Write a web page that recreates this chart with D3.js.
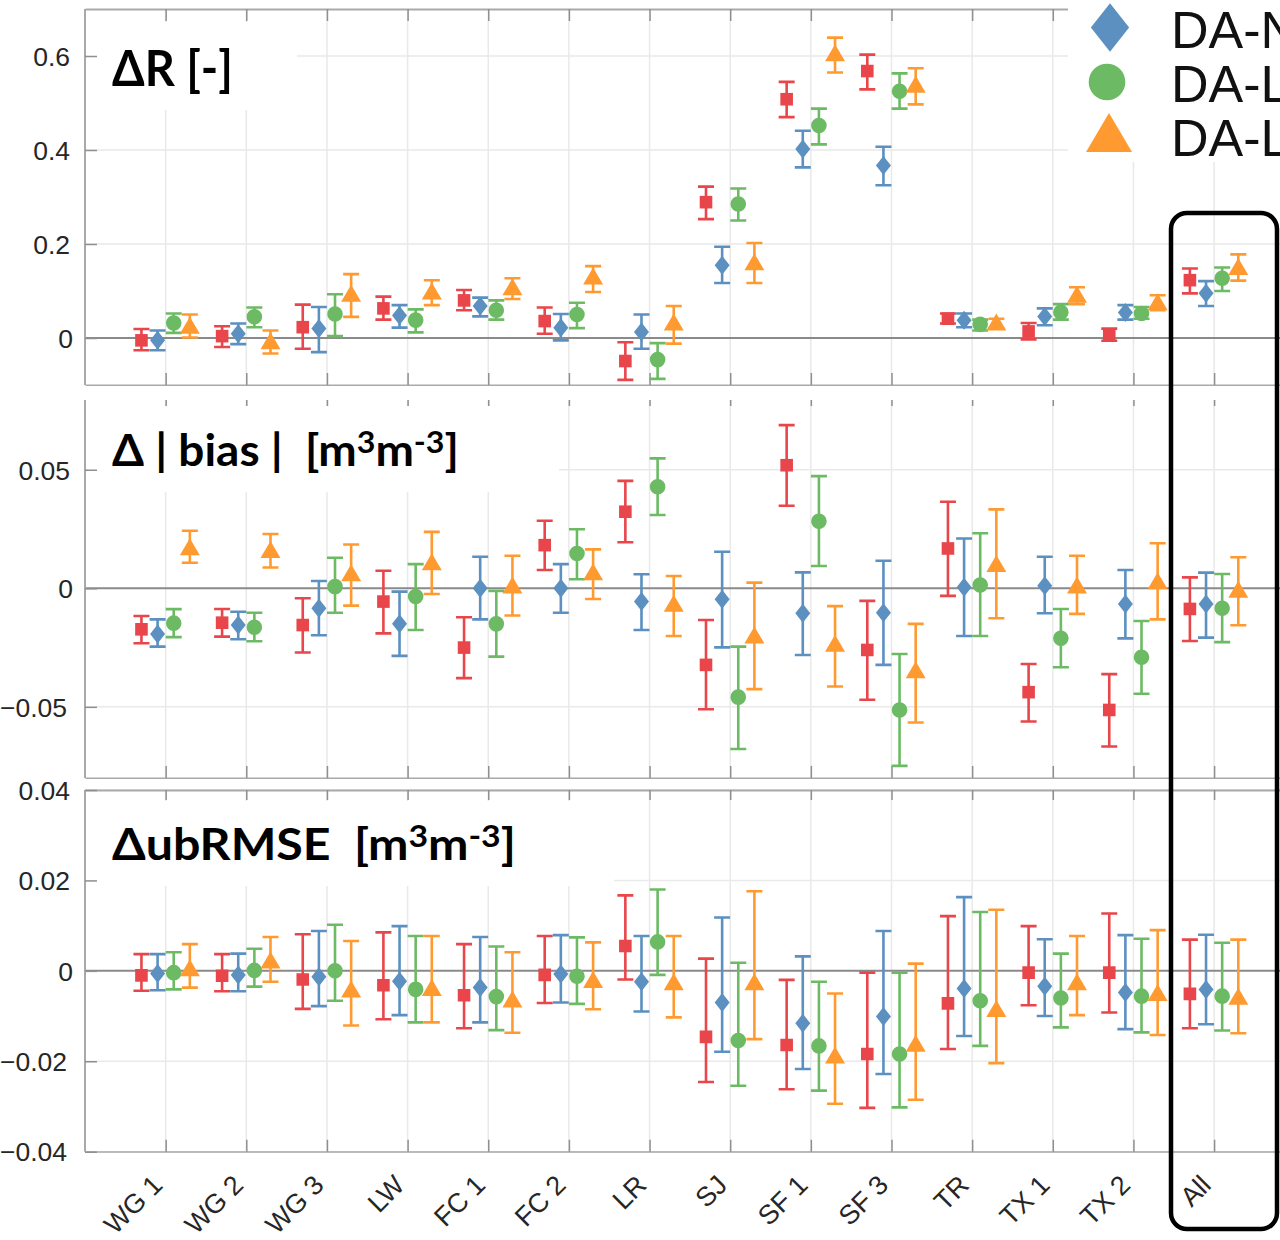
<!DOCTYPE html>
<html>
<head>
<meta charset="utf-8">
<script src="https://cdn.jsdelivr.net/npm/d3@7/dist/d3.min.js"></script>
<style>
  html, body { margin: 0; padding: 0; background: #fff; overflow: hidden; }
  svg { display: block; }
</style>
</head>
<body>
<svg id="fig" width="1280" height="1240"></svg>
<script>
// ---------- categories ----------
const sites = ["WG 1", "WG 2", "WG 3", "LW", "FC 1", "FC 2", "LR", "SJ", "SF 1", "SF 3", "TR", "TX 1", "TX 2", "All"];

// ---------- ΔR [-] : value, upper, lower ----------
const rSqV  = [-0.005, 0.004, 0.023, 0.063, 0.080, 0.036, -0.049, 0.289, 0.508, 0.568, 0.041, 0.014, 0.007, 0.123];
const rSqHi = [ 0.019, 0.025, 0.071, 0.088, 0.102, 0.065, -0.009, 0.322, 0.545, 0.603, 0.052, 0.032, 0.020, 0.148];
const rSqLo = [-0.026, -0.019, -0.023, 0.039, 0.059, 0.009, -0.089, 0.253, 0.470, 0.529, 0.031, -0.003, -0.006, 0.095];
const rDmV  = [-0.005, 0.009, 0.020, 0.048, 0.068, 0.022, 0.013, 0.155, 0.402, 0.367, 0.038, 0.046, 0.054, 0.095];
const rDmHi = [ 0.016, 0.031, 0.066, 0.070, 0.086, 0.051, 0.050, 0.194, 0.441, 0.407, 0.052, 0.063, 0.070, 0.121];
const rDmLo = [-0.026, -0.013, -0.030, 0.022, 0.046, -0.005, -0.023, 0.117, 0.363, 0.325, 0.023, 0.027, 0.039, 0.068];
const rCiV  = [ 0.032, 0.045, 0.051, 0.038, 0.059, 0.050, -0.046, 0.285, 0.452, 0.525, 0.029, 0.055, 0.052, 0.127];
const rCiHi = [ 0.052, 0.065, 0.093, 0.061, 0.080, 0.075, -0.011, 0.318, 0.488, 0.563, 0.039, 0.072, 0.066, 0.150];
const rCiLo = [ 0.011, 0.023, 0.004, 0.012, 0.039, 0.021, -0.087, 0.250, 0.412, 0.488, 0.016, 0.039, 0.041, 0.100];
const rTrV  = [ 0.027, -0.006, 0.095, 0.100, 0.109, 0.132, 0.034, 0.162, 0.607, 0.540, 0.034, 0.093, 0.077, 0.152];
const rTrHi = [ 0.050, 0.016, 0.136, 0.123, 0.127, 0.153, 0.068, 0.202, 0.639, 0.574, 0.041, 0.108, 0.091, 0.178];
const rTrLo = [ 0.001, -0.033, 0.045, 0.070, 0.083, 0.098, -0.012, 0.117, 0.565, 0.497, 0.020, 0.072, 0.059, 0.122];

// ---------- Δ|bias| [m3 m-3] ----------
const bSqV  = [-0.0173, -0.0145, -0.0155, -0.0056, -0.0250, 0.0182, 0.0323, -0.0323, 0.0519, -0.0260, 0.0168, -0.0438, -0.0513, -0.0087];
const bSqHi = [-0.0117, -0.0087, -0.0042, 0.0074, -0.0122, 0.0285, 0.0453, -0.0134, 0.0688, -0.0053, 0.0365, -0.0319, -0.0362, 0.0046];
const bSqLo = [-0.0232, -0.0204, -0.0271, -0.0190, -0.0379, 0.0077, 0.0194, -0.0510, 0.0348, -0.0470, -0.0032, -0.0562, -0.0667, -0.0222];
const bDmV  = [-0.0193, -0.0155, -0.0084, -0.0150, 0.0000, 0.0000, -0.0056, -0.0046, -0.0105, -0.0103, 0.0004, 0.0011, -0.0066, -0.0066];
const bDmHi = [-0.0131, -0.0099, 0.0031, -0.0014, 0.0133, 0.0102, 0.0059, 0.0154, 0.0067, 0.0116, 0.0210, 0.0133, 0.0077, 0.0066];
const bDmLo = [-0.0246, -0.0215, -0.0198, -0.0285, -0.0131, -0.0103, -0.0176, -0.0249, -0.0281, -0.0323, -0.0201, -0.0105, -0.0211, -0.0208];
const bCiV  = [-0.0147, -0.0164, 0.0007, -0.0035, -0.0150, 0.0147, 0.0428, -0.0459, 0.0283, -0.0513, 0.0014, -0.0211, -0.0291, -0.0084];
const bCiHi = [-0.0088, -0.0103, 0.0129, 0.0102, -0.0011, 0.0249, 0.0548, -0.0246, 0.0473, -0.0277, 0.0232, -0.0087, -0.0138, 0.0060];
const bCiLo = [-0.0206, -0.0223, -0.0103, -0.0176, -0.0288, 0.0038, 0.0309, -0.0678, 0.0094, -0.0749, -0.0201, -0.0333, -0.0445, -0.0227];
const bTrV  = [ 0.0175, 0.0164, 0.0066, 0.0112, 0.0014, 0.0070, -0.0063, -0.0197, -0.0232, -0.0344, 0.0105, 0.0014, 0.0032, -0.0004];
const bTrHi = [ 0.0243, 0.0229, 0.0185, 0.0238, 0.0137, 0.0164, 0.0052, 0.0024, -0.0075, -0.0150, 0.0333, 0.0137, 0.0190, 0.0131];
const bTrLo = [ 0.0108, 0.0088, -0.0073, -0.0024, -0.0115, -0.0045, -0.0201, -0.0425, -0.0414, -0.0566, -0.0126, -0.0108, -0.0131, -0.0156];

// ---------- ΔubRMSE [m3 m-3] ----------
const uSqV  = [-0.0010, -0.0011, -0.0019, -0.0032, -0.0054, -0.0009, 0.0055, -0.0146, -0.0164, -0.0184, -0.0072, -0.0004, -0.0004, -0.0051];
const uSqHi = [ 0.0037, 0.0037, 0.0081, 0.0085, 0.0059, 0.0077, 0.0167, 0.0027, -0.0020, -0.0004, 0.0121, 0.0099, 0.0127, 0.0069];
const uSqLo = [-0.0044, -0.0045, -0.0084, -0.0107, -0.0127, -0.0071, -0.0019, -0.0246, -0.0262, -0.0303, -0.0173, -0.0076, -0.0092, -0.0127];
const uDmV  = [-0.0006, -0.0009, -0.0013, -0.0023, -0.0037, -0.0007, -0.0024, -0.0070, -0.0116, -0.0101, -0.0039, -0.0034, -0.0048, -0.0041];
const uDmHi = [ 0.0037, 0.0038, 0.0088, 0.0099, 0.0075, 0.0079, 0.0077, 0.0118, 0.0032, 0.0088, 0.0163, 0.0070, 0.0079, 0.0080];
const uDmLo = [-0.0043, -0.0045, -0.0078, -0.0098, -0.0114, -0.0070, -0.0090, -0.0179, -0.0217, -0.0228, -0.0144, -0.0100, -0.0129, -0.0118];
const uCiV  = [-0.0004, 0.0001, 0.0000, -0.0041, -0.0057, -0.0012, 0.0064, -0.0154, -0.0166, -0.0184, -0.0066, -0.0060, -0.0056, -0.0056];
const uCiHi = [ 0.0041, 0.0049, 0.0102, 0.0077, 0.0054, 0.0074, 0.0180, 0.0018, -0.0024, -0.0004, 0.0130, 0.0038, 0.0071, 0.0062];
const uCiLo = [-0.0041, -0.0035, -0.0066, -0.0114, -0.0131, -0.0073, -0.0009, -0.0254, -0.0265, -0.0302, -0.0166, -0.0125, -0.0136, -0.0132];
const uTrV  = [ 0.0007, 0.0024, -0.0040, -0.0037, -0.0062, -0.0019, -0.0024, -0.0024, -0.0186, -0.0160, -0.0083, -0.0024, -0.0048, -0.0056];
const uTrHi = [ 0.0059, 0.0075, 0.0066, 0.0077, 0.0041, 0.0063, 0.0077, 0.0176, -0.0050, 0.0016, 0.0135, 0.0077, 0.0090, 0.0069];
const uTrLo = [-0.0037, -0.0024, -0.0121, -0.0114, -0.0137, -0.0085, -0.0103, -0.0151, -0.0294, -0.0285, -0.0204, -0.0098, -0.0142, -0.0138];

// ---------- axis ticks ----------
const rTicks = [0, 0.2, 0.4, 0.6];
const bTicks = [-0.05, 0, 0.05];
const uTicks = [-0.04, -0.02, 0, 0.02, 0.04];

// ---------- legend labels ----------
const legendLabels = ["DA-N", "DA-L", "DA-L"];

// ---------- styles ----------
const seriesStyle = [
  { shape: "square",   color: "#e8464b", offset: -0.3 },
  { shape: "diamond",  color: "#5b90c1", offset: -0.1 },
  { shape: "circle",   color: "#6cbb64", offset:  0.1 },
  { shape: "triangle", color: "#ff9a30", offset:  0.3 }
];
const GRID = "#e9e9e9", FRAME = "#a9a9a9", TICK = "#8f8f8f", ZERO = "#8a8a8a", LABEL = "#262626";
const NUM_FONT = "'Liberation Sans', Arial, Helvetica, sans-serif";
const TITLE_FONT = "Lato, 'Open Sans', sans-serif";

const svg = d3.select("#fig");
const x = d3.scaleLinear().domain([0, 15]).range([85, 1294.75]);
const siteIdx = sites.map((s, i) => i + 1);

function markerPath(shape, s) {
  // s: scale factor (1 = plot marker)
  if (shape === "square")  { const h = 6.3 * s; return `M${-h},${-h}H${h}V${h}H${-h}Z`; }
  if (shape === "diamond") { const w = 7.5 * s, h = 9.5 * s; return `M0,${-h}L${w},0L0,${h}L${-w},0Z`; }
  if (shape === "triangle"){ const w = 10 * s, h = 8.5 * s; return `M0,${-h}L${w},${h}L${-w},${h}Z`; }
  const r = 7.8 * s; return `M${r},0A${r},${r} 0 1,1 ${-r},0A${r},${r} 0 1,1 ${r},0Z`;
}

const panels = [
  {
    id: "pR", domain: [-0.1, 0.7], range: [385, 9], visTop: 9, topLine: true, topTick: 12,
    ticks: rTicks, fmt: d3.format(".1f"),
    titleBox: [87, 22, 210, 88],
    title: [{ t: "ΔR [-]" }], titleSize: 50, titleY: 86, titleW: 121,
    series: [[rSqV, rSqHi, rSqLo], [rDmV, rDmHi, rDmLo], [rCiV, rCiHi, rCiLo], [rTrV, rTrHi, rTrLo]],
    xLabels: false
  },
  {
    id: "pB", domain: [-0.08, 0.08], range: [778, 398.6], visTop: 400, topLine: false, topTick: 6,
    ticks: bTicks, fmt: d3.format(".2f"),
    titleBox: [87, 406, 472, 86],
    title: [{ t: "Δ | bias |  [m" }, { t: "3", sup: true }, { t: "m" }, { t: "-3", sup: true }, { t: "]" }],
    titleSize: 43, titleY: 466, titleW: 347,
    series: [[bSqV, bSqHi, bSqLo], [bDmV, bDmHi, bDmLo], [bCiV, bCiHi, bCiLo], [bTrV, bTrHi, bTrLo]],
    xLabels: false
  },
  {
    id: "pU", domain: [-0.04, 0.04], range: [1151.7, 790], visTop: 790, topLine: true, topTick: 10,
    ticks: uTicks, fmt: d3.format(".2f"),
    titleBox: [87, 801, 527, 85],
    title: [{ t: "ΔubRMSE  [m" }, { t: "3", sup: true }, { t: "m" }, { t: "-3", sup: true }, { t: "]" }],
    titleSize: 44, titleY: 860, titleW: 404,
    series: [[uSqV, uSqHi, uSqLo], [uDmV, uDmHi, uDmLo], [uCiV, uCiHi, uCiLo], [uTrV, uTrHi, uTrLo]],
    xLabels: true
  }
];

const defs = svg.append("defs");

panels.forEach(p => {
  const y = d3.scaleLinear().domain(p.domain).range(p.range);
  const bottom = p.range[0];
  const clipId = "clip-" + p.id;
  defs.append("clipPath").attr("id", clipId)
    .append("rect").attr("x", 0).attr("y", p.visTop - 1).attr("width", 1280).attr("height", bottom - p.visTop + 2);
  const g = svg.append("g").attr("clip-path", `url(#${clipId})`);

  // grid lines
  g.append("g").selectAll("line").data(siteIdx).join("line")
    .attr("x1", d => x(d)).attr("x2", d => x(d))
    .attr("y1", p.visTop).attr("y2", bottom)
    .attr("stroke", GRID).attr("stroke-width", 1.5);
  g.append("g").selectAll("line").data(p.ticks.filter(t => t !== 0)).join("line")
    .attr("x1", x(0)).attr("x2", 1280)
    .attr("y1", d => y(d)).attr("y2", d => y(d))
    .attr("stroke", GRID).attr("stroke-width", 1.5);

  // white panel behind the title
  const tb = p.titleBox;
  g.append("rect").attr("x", tb[0]).attr("y", tb[1]).attr("width", tb[2]).attr("height", tb[3]).attr("fill", "#fff");

  // zero reference line
  g.append("line").attr("x1", x(0)).attr("x2", 1280).attr("y1", y(0)).attr("y2", y(0))
    .attr("stroke", ZERO).attr("stroke-width", 2);

  // x axes (ticks pointing inward)
  const axB = g.append("g").attr("transform", `translate(0,${bottom})`)
    .call(d3.axisBottom(x).tickValues(siteIdx).tickSize(-12).tickSizeOuter(0).tickFormat(() => ""));
  axB.selectAll(".tick text").remove();
  axB.select(".domain").attr("stroke", FRAME).attr("stroke-width", 2);
  axB.selectAll(".tick line").attr("stroke", TICK).attr("stroke-width", 1.5);

  if (p.xLabels) {
    // category labels below the lowest panel, outside the clipped plot area
    const axLab = svg.append("g").attr("transform", `translate(0,${bottom})`)
      .call(d3.axisBottom(x).tickValues(siteIdx).tickSize(0).tickFormat(d => sites[d - 1]));
    axLab.select(".domain").remove();
    axLab.selectAll(".tick line").remove();
    axLab.selectAll(".tick text")
      .attr("x", 0).attr("y", 0).attr("dy", null)
      .attr("transform", "translate(-2,35) rotate(-45)")
      .attr("text-anchor", "end")
      .attr("font-family", NUM_FONT).attr("font-size", 27).attr("fill", LABEL);
  }

  const axT = g.append("g").attr("transform", `translate(0,${p.visTop})`)
    .call(d3.axisTop(x).tickValues(siteIdx).tickSize(-p.topTick).tickSizeOuter(0).tickFormat(() => ""));
  axT.selectAll(".tick text").remove();
  axT.select(".domain").attr("stroke", p.topLine ? FRAME : "none").attr("stroke-width", 2);
  axT.selectAll(".tick line").attr("stroke", TICK).attr("stroke-width", 1.5);

  // y axis
  const axL = svg.append("g").attr("transform", `translate(${x(0)},0)`)
    .call(d3.axisLeft(y).tickValues(p.ticks).tickSize(-12).tickSizeOuter(0).tickPadding(15)
      .tickFormat(d => d === 0 ? "0" : p.fmt(d)));
  axL.select(".domain").attr("d", `M0,${p.visTop}V${bottom}`).attr("stroke", FRAME).attr("stroke-width", 2);
  axL.selectAll(".tick line").attr("stroke", TICK).attr("stroke-width", 1.5);
  axL.selectAll(".tick text")
    .attr("font-family", NUM_FONT).attr("font-size", 26.5).attr("fill", LABEL)
    .attr("dy", "0.35em")
    .attr("x", d => d < 0 ? -18 : (d === 0 ? -12 : -15));

  // title, stretched horizontally to its panel width
  const tt = svg.append("text").attr("x", 0).attr("y", 0)
    .style("white-space", "pre")
    .attr("font-family", TITLE_FONT).attr("font-weight", 700)
    .attr("font-size", p.titleSize).attr("fill", "#000");
  let shifted = false;
  p.title.forEach(seg => {
    const sp = tt.append("tspan").text(seg.t);
    if (seg.sup) {
      sp.attr("font-size", p.titleSize * 0.7).attr("dy", -p.titleSize * 0.3);
      shifted = true;
    } else if (shifted) {
      sp.attr("dy", p.titleSize * 0.3);
      shifted = false;
    }
  });
  const natural = tt.node().getComputedTextLength();
  tt.attr("transform", `translate(112,${p.titleY}) scale(${p.titleW / natural},1)`);

  // error bars and markers
  p.series.forEach((arr, si) => {
    const st = seriesStyle[si];
    const rows = arr[0].map((v, i) => ({ i: i + 1, v, hi: arr[1][i], lo: arr[2][i] }));
    const sg = g.append("g").attr("stroke", st.color).attr("fill", st.color);
    const cx = d => x(d.i + st.offset);
    sg.selectAll("path.eb").data(rows).join("path").attr("class", "eb")
      .attr("fill", "none").attr("stroke-width", 2.6)
      .attr("d", d => `M${cx(d) - 8},${y(d.hi)}H${cx(d) + 8}M${cx(d)},${y(d.hi)}V${y(d.lo)}M${cx(d) - 8},${y(d.lo)}H${cx(d) + 8}`);
    sg.selectAll("path.mk").data(rows).join("path").attr("class", "mk")
      .attr("stroke", "none")
      .attr("transform", d => `translate(${cx(d)},${y(d.v)})`)
      .attr("d", markerPath(st.shape, 1));
  });
});

// legend (white panel over the top-right corner)
const lg = svg.append("g");
lg.append("rect").attr("x", 1068).attr("y", 0).attr("width", 212).attr("height", 162).attr("fill", "#fff");
const legendItems = [
  { style: seriesStyle[1], cx: 1110, cy: 27.5, s: 2.55, label: legendLabels[0], by: 48 },
  { style: seriesStyle[2], cx: 1107, cy: 82,   s: 2.35, label: legendLabels[1], by: 102 },
  { style: seriesStyle[3], cx: 1109, cy: 132.5, s: 2.3, label: legendLabels[2], by: 156 }
];
legendItems.forEach(it => {
  lg.append("path").attr("transform", `translate(${it.cx},${it.cy})`)
    .attr("d", markerPath(it.style.shape, it.s)).attr("fill", it.style.color);
  lg.append("text").attr("x", 1171).attr("y", it.by)
    .attr("font-family", NUM_FONT).attr("font-size", 52).attr("fill", "#111")
    .text(it.label);
});

// frame around the pooled "All" column
svg.append("rect").attr("x", 1171).attr("y", 213).attr("width", 106).attr("height", 1016)
  .attr("rx", 16).attr("ry", 16).attr("fill", "none").attr("stroke", "#000").attr("stroke-width", 4.5);
</script>
</body>
</html>
